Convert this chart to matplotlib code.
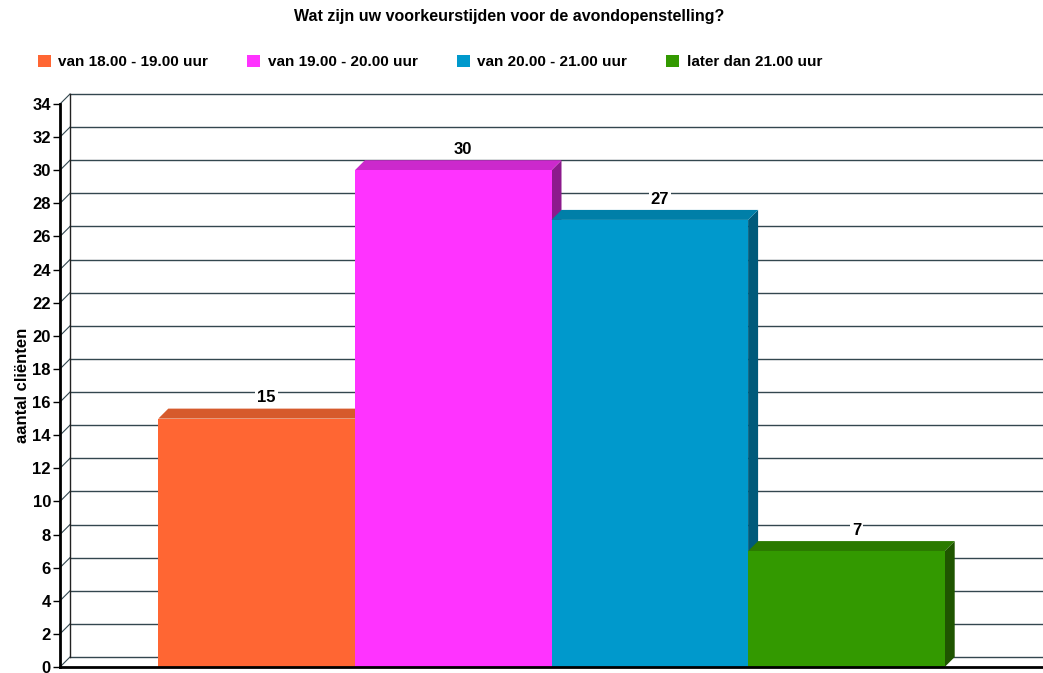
import numpy as np
import matplotlib.pyplot as plt
from matplotlib.patches import Polygon, Rectangle
from matplotlib.lines import Line2D

plt.rcParams['font.family'] = ['Liberation Sans', 'DejaVu Sans']
plt.rcParams['font.weight'] = 'bold'

title = 'Wat zijn uw voorkeurstijden voor de avondopenstelling?'
labels = ['van 18.00 - 19.00 uur', 'van 19.00 - 20.00 uur',
          'van 20.00 - 21.00 uur', 'later dan 21.00 uur']
values = [15, 30, 27, 7]
front = ['#FF6633', '#FF33FF', '#0099CC', '#339900']
top = ['#D65A2C', '#CC29CC', '#007FA8', '#2B7A00']
side = ['#A84520', '#8C1A8C', '#005A7A', '#1F5500']

fig = plt.figure(figsize=(10.43, 6.73), dpi=100)
ax = fig.add_axes([60/1043, 6/673, 983/1043, 563/673])
ax.set_xlim(-1, 4)
ax.set_ylim(0, 34)

# depth offset in data units (about 10 px each way)
dx = 10 / 196.6
dy = 10 / (563 / 34)

# back wall gridlines + connectors
for t in range(0, 35, 2):
    ax.add_line(Line2D([-1 + dx, 4.2], [t + dy, t + dy], color='#33474f', lw=1.0, clip_on=False, zorder=1))
    ax.add_line(Line2D([-1, -1 + dx], [t, t + dy], color='#33474f', lw=0.8, clip_on=False, zorder=1))
ax.add_line(Line2D([-1 + dx, -1 + dx], [dy, 34 + dy], color='#222222', lw=1.0, clip_on=False, zorder=1))

# bars with a fake 3D look
for i, v in enumerate(values):
    x0, x1 = i - 0.5, i + 0.5
    ax.add_patch(Polygon([[x1, 0], [x1 + dx, dy], [x1 + dx, v + dy], [x1, v]],
                         closed=True, fc=side[i], ec='none', zorder=2 + i))
    ax.add_patch(Polygon([[x0, v], [x0 + dx, v + dy], [x1 + dx, v + dy], [x1, v]],
                         closed=True, fc=top[i], ec='none', zorder=2 + i))
    ax.add_patch(Rectangle((x0, 0), 1, v, fc=front[i], ec='none', zorder=2 + i, label=labels[i]))
    ax.text(i + dx, v + dy + 0.2, str(v), ha='center', va='bottom', fontsize=12,
            fontweight='bold', zorder=10,
            bbox=dict(boxstyle='square,pad=0.12', fc='white', ec='none'))

for s in ['top', 'right']:
    ax.spines[s].set_visible(False)
ax.spines['left'].set_linewidth(2)
ax.spines['bottom'].set_linewidth(2)
ax.spines['bottom'].set_zorder(20)
ax.set_xticks([])
ax.set_yticks(np.arange(0, 35, 2))
ax.tick_params(axis='y', length=5, width=1, labelsize=12, pad=1.5)
for lab in ax.get_yticklabels():
    lab.set_fontweight('bold')
ax.set_ylabel('aantal cliënten', fontsize=12, fontweight='bold', labelpad=2)

fig.text(0.5 - 12/1043, 1 - 17/673, title, ha='center', va='center', fontsize=11.5, fontweight='bold')
fig.legend(loc='center left', bbox_to_anchor=(24/1043, 1 - 62/673), ncol=4, frameon=False,
           fontsize=11, handlelength=0.85, handleheight=0.85, columnspacing=2.55, handletextpad=0.5)

fig.savefig('out.png', dpi=100)
